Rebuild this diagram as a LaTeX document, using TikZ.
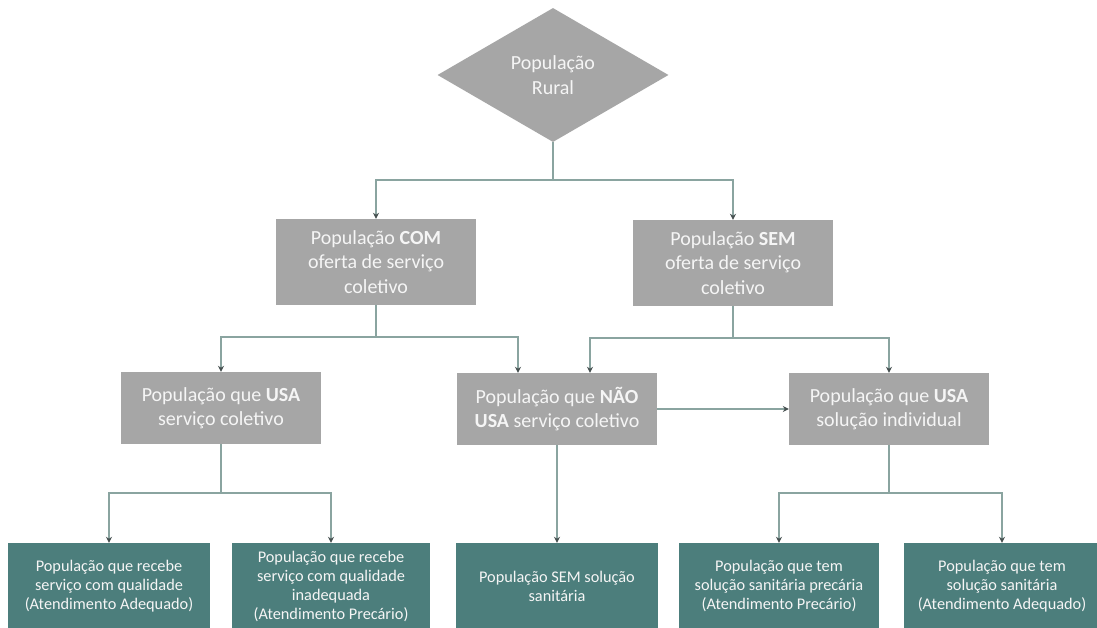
\documentclass[tikz,border=0pt]{standalone}
\usepackage{fontspec}
\setmainfont{Carlito}
\usetikzlibrary{shapes.geometric,arrows.meta,positioning}
\definecolor{boxgray}{RGB}{166,166,166}
\definecolor{boxteal}{RGB}{76,126,124}
\definecolor{linec}{RGB}{138,164,160}
\definecolor{tipc}{RGB}{70,80,80}
\definecolor{txt}{RGB}{245,245,245}
\begin{document}
\begin{tikzpicture}[x=1pt,y=1pt,
  graybox/.style={rectangle,fill=boxgray,text=txt,align=center,inner sep=0pt,
    minimum width=200pt,minimum height=86pt,font=\fontsize{20}{24.5}\selectfont},
  graysmall/.style={graybox,minimum height=72pt},
  tealbox/.style={rectangle,fill=boxteal,text=txt,align=center,inner sep=0pt,
    minimum width=200pt,minimum height=86pt,font=\fontsize{16.3}{19}\selectfont},
  conn/.style={draw=linec,line width=1.5pt,-{Stealth[length=6pt,width=6pt,color=tipc]}},
  plain/.style={draw=linec,line width=1.5pt}]
\useasboundingbox (0,0) rectangle (1097,-628);
\fill[white] (0,0) rectangle (1097,-628);
\node[diamond,fill=boxgray,text=txt,align=center,inner sep=0pt,aspect=1.72,
  minimum width=231pt,minimum height=134pt,font=\fontsize{20}{24.5}\selectfont]
  (root) at (553,-75) {População\\Rural};
\node[graybox] (com) at (376,-262) {População \textbf{COM}\\oferta de serviço\\coletivo};
\node[graybox] (sem) at (733,-263) {População \textbf{SEM}\\oferta de serviço\\coletivo};
\node[graysmall] (usac) at (221,-408) {População que \textbf{USA}\\serviço coletivo};
\node[graysmall] (nao) at (557,-409) {População que \textbf{NÃO}\\\textbf{USA} serviço coletivo};
\node[graysmall] (usai) at (889,-409) {População que \textbf{USA}\\solução individual};
\node[tealbox,minimum width=202pt] (b1) at (109,-586) {População que recebe\\serviço com qualidade\\(Atendimento Adequado)};
\node[tealbox,minimum width=198pt] (b2) at (331,-586) {População que recebe\\serviço com qualidade\\inadequada\\(Atendimento Precário)};
\node[tealbox,minimum width=202pt] (b3) at (557,-586) {População SEM solução\\sanitária};
\node[tealbox] (b4) at (779,-586) {População que tem\\solução sanitária precária\\(Atendimento Precário)};
\node[tealbox,minimum width=196pt] (b5) at (1002,-586) {População que tem\\solução sanitária\\(Atendimento Adequado)};
\coordinate (j0) at (553,-180);
\coordinate (j1) at (376,-337);
\coordinate (j2) at (733,-338);
\coordinate (j3) at (221,-493);
\coordinate (j4) at (889,-493);
\draw[plain] (root.south) -- (j0);
\draw[conn] (j0) -| (com.north);
\draw[conn] (j0) -| (sem.north);
\draw[plain] (com.south) -- (j1);
\draw[conn] (j1) -| (usac.north);
\draw[conn] (j1) -| ([xshift=-39pt]nao.north);
\draw[plain] (sem.south) -- (j2);
\draw[conn] (j2) -| ([xshift=33pt]nao.north);
\draw[conn] (j2) -| (usai.north);
\draw[conn] (nao.east) -- (usai.west);
\draw[plain] (usac.south) -- (j3);
\draw[conn] (j3) -| (b1.north);
\draw[conn] (j3) -| (b2.north);
\draw[conn] (nao.south) -- (b3.north);
\draw[plain] (usai.south) -- (j4);
\draw[conn] (j4) -| (b4.north);
\draw[conn] (j4) -| (b5.north);
\end{tikzpicture}
\end{document}
